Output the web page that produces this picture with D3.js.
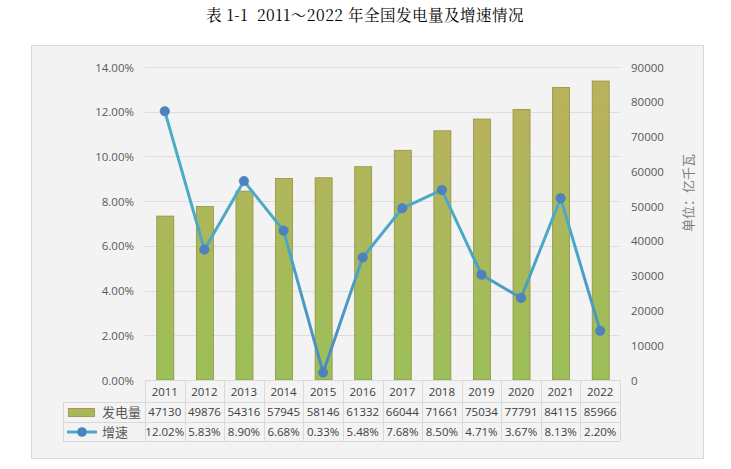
<!DOCTYPE html>
<html><head><meta charset="utf-8">
<script src="https://cdn.jsdelivr.net/npm/d3@7"></script>
<style>
html,body{margin:0;padding:0;background:#fff;}
svg{display:block;}
</style></head>
<body>
<script>
const years = ["2011","2012","2013","2014","2015","2016","2017","2018","2019","2020","2021","2022"];
const generation = [47130,49876,54316,57945,58146,61332,66044,71661,75034,77791,84115,85966];
const growth = [12.02,5.83,8.90,6.68,0.33,5.48,7.68,8.50,4.71,3.67,8.13,2.20];
const growthLabels = ["12.02%","5.83%","8.90%","6.68%","0.33%","5.48%","7.68%","8.50%","4.71%","3.67%","8.13%","2.20%"];
const leftTicks = [0,2,4,6,8,10,12,14];
const rightTicks = [0,10000,20000,30000,40000,50000,60000,70000,80000,90000];
const seriesNames = ["发电量","增速"];
const titleText = "表 1-1  2011～2022 年全国发电量及增速情况";
const unitText = "单位：亿千瓦";

(function(){
const W = 731, H = 469;
const svg = d3.select("body").append("svg").attr("width", W).attr("height", H);
const defs = svg.append("defs");
const grad = defs.append("linearGradient").attr("id","barGrad").attr("x1",0).attr("y1",0).attr("x2",0).attr("y2",1);
grad.append("stop").attr("offset","0%").attr("stop-color","#bcae5c");
grad.append("stop").attr("offset","100%").attr("stop-color","#9bbf59");
const grad2 = defs.append("linearGradient").attr("id","barGradAbs").attr("gradientUnits","userSpaceOnUse").attr("x1",0).attr("y1",67).attr("x2",0).attr("y2",380);
grad2.append("stop").attr("offset","0%").attr("stop-color","#bdb05c");
grad2.append("stop").attr("offset","100%").attr("stop-color","#9bbf59");
const grad3 = defs.append("linearGradient").attr("id","lineGrad").attr("gradientUnits","userSpaceOnUse").attr("x1",0).attr("y1",67).attr("x2",0).attr("y2",380);
grad3.append("stop").attr("offset","0%").attr("stop-color","#4bb3c6");
grad3.append("stop").attr("offset","55%").attr("stop-color","#4aa8c8");
grad3.append("stop").attr("offset","100%").attr("stop-color","#4a88c3");

// title
svg.append("text").attr("x",365).attr("y",21).attr("text-anchor","middle")
  .attr("xml:space","preserve").style("white-space","pre").style("letter-spacing","0.5px")
  .style("font-family","'Noto Serif CJK SC','Noto Sans CJK SC',serif").style("font-size","15.5px").style("fill","#000")
  .text(titleText);

// chart box
svg.append("rect").attr("x",31.5).attr("y",45.5).attr("width",672).attr("height",413)
  .attr("fill","#f3f3f3").attr("stroke","#d9d9d9");

const pL = 145, pR = 620, pT = 67, pB = 380;
const x = d3.scaleBand().domain(years).range([pL,pR]).paddingInner(0).paddingOuter(0);
const yL = d3.scaleLinear().domain([0,14]).range([pB,pT]);
const yR = d3.scaleLinear().domain([0,90000]).range([pB,pT]);

const font = "'Open Sans','Noto Sans',sans-serif";
// grid
svg.append("g").selectAll("line").data(leftTicks.slice(1)).join("line")
  .attr("x1",pL).attr("x2",pR).attr("y1",d=>Math.round(yL(d))+0.5).attr("y2",d=>Math.round(yL(d))+0.5)
  .attr("stroke","#dedede").attr("stroke-width",1);

// left axis
const gL = svg.append("g").attr("transform",`translate(${pL-8},0)`)
  .call(d3.axisLeft(yL).tickValues(leftTicks).tickFormat(d=>d.toFixed(2)+"%").tickSize(0));
gL.select(".domain").remove();
gL.selectAll("text").style("font-family",font).style("font-size","11.5px").style("fill","#595959").attr("dy","0.35em");

// right axis
const gR = svg.append("g").attr("transform",`translate(${pR+8},0)`)
  .call(d3.axisRight(yR).tickValues(rightTicks).tickFormat(d=>String(d)).tickSize(0));
gR.select(".domain").remove();
gR.selectAll("text").style("font-family",font).style("font-size","11.5px").style("fill","#595959").attr("dy","0.35em");

// unit label
svg.append("text").attr("transform","translate(693,193) rotate(-90)").attr("text-anchor","middle")
  .style("font-family","'Noto Sans CJK SC',sans-serif").style("font-size","13px").style("fill","#7f7f7f")
  .text(unitText);

// bars
const bw = 17;
svg.append("g").selectAll("rect").data(generation).join("rect")
  .attr("x",(d,i)=>x(years[i])+x.bandwidth()/2-bw/2+0.5)
  .attr("y",d=>yR(d)).attr("width",bw).attr("height",d=>pB-yR(d))
  .attr("fill","url(#barGradAbs)").attr("stroke","#8f923f").attr("stroke-width",0.8);

// line
const line = d3.line().x((d,i)=>x(years[i])+x.bandwidth()/2).y(d=>yL(d));
svg.append("path").datum(growth).attr("d",line).attr("fill","none")
  .attr("stroke","url(#lineGrad)").attr("stroke-width",3).attr("stroke-linejoin","round");
svg.append("g").selectAll("circle").data(growth).join("circle")
  .attr("cx",(d,i)=>x(years[i])+x.bandwidth()/2).attr("cy",d=>yL(d)).attr("r",4.8)
  .attr("fill","#4f81bd").attr("stroke","#4a7ebb").attr("stroke-width",0.5);

// data table
const tbl = svg.append("g");
const lc = "#d9d9d9";
tbl.append("line").attr("x1",pL).attr("x2",pR).attr("y1",pB+0.5).attr("y2",pB+0.5).attr("stroke",lc);
[402,422,441].forEach(yy=>{
  tbl.append("line").attr("x1",63).attr("x2",pR).attr("y1",yy+0.5).attr("y2",yy+0.5).attr("stroke",lc);
});
tbl.append("line").attr("x1",63.5).attr("x2",63.5).attr("y1",402).attr("y2",441).attr("stroke",lc);
years.forEach((yr,i)=>{
  const xx = Math.round(x(yr))+0.5;
  tbl.append("line").attr("x1",xx).attr("x2",xx).attr("y1",380).attr("y2",441).attr("stroke",lc);
});
tbl.append("line").attr("x1",pR+0.5).attr("x2",pR+0.5).attr("y1",380).attr("y2",441).attr("stroke",lc);

const cellText = (arr, yc) => tbl.append("g").selectAll("text").data(arr).join("text")
  .attr("x",(d,i)=>x(years[i])+x.bandwidth()/2).attr("y",yc).attr("text-anchor","middle").attr("dy","0.35em")
  .style("font-family",font).style("font-size","11.5px").style("fill","#404040").text(d=>d);
cellText(years, 392);
cellText(generation.map(String), 412);
cellText(growthLabels, 432);

// legend keys
tbl.append("rect").attr("x",68.5).attr("y",408.5).attr("width",26).attr("height",8)
  .attr("fill","url(#barGrad)").attr("stroke","#8f923f").attr("stroke-width",0.8);
tbl.append("line").attr("x1",67).attr("x2",97).attr("y1",432).attr("y2",432).attr("stroke","#4aa8c8").attr("stroke-width",3);
tbl.append("circle").attr("cx",82).attr("cy",432).attr("r",4.8).attr("fill","#4f81bd");
tbl.append("text").attr("x",102).attr("y",412).attr("dy","0.35em").style("font-family","'Noto Sans CJK SC',sans-serif")
  .style("font-size","13px").style("fill","#595959").text(seriesNames[0]);
tbl.append("text").attr("x",102).attr("y",432).attr("dy","0.35em").style("font-family","'Noto Sans CJK SC',sans-serif")
  .style("font-size","13px").style("fill","#595959").text(seriesNames[1]);
})();
</script>
</body></html>
